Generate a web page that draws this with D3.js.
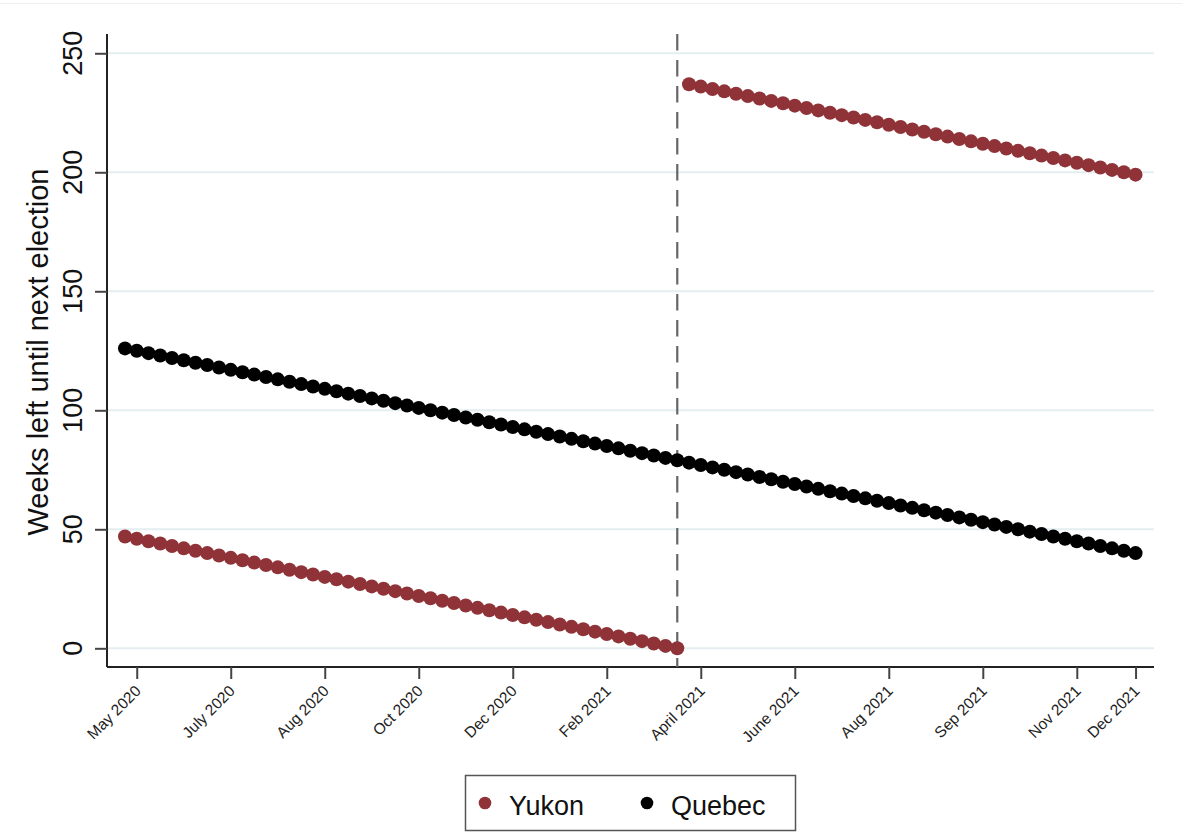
<!DOCTYPE html>
<html>
<head>
<meta charset="utf-8">
<script src="https://cdn.jsdelivr.net/npm/d3@7"></script>
<style>
  html, body { margin: 0; padding: 0; background: #fff; }
  svg { display: block; font-family: "Liberation Sans", Arial, Helvetica, sans-serif; }
</style>
</head>
<body>
<svg id="chart" width="1182" height="839"></svg>
<script>
// Weeks left until the next provincial/territorial election, one point per week
const yukon = [47,46,45,44,43,42,41,40,39,38,37,36,35,34,33,32,31,30,29,28,27,26,25,24,
  23,22,21,20,19,18,17,16,15,14,13,12,11,10,9,8,7,6,5,4,3,2,1,0,
  237,236,235,234,233,232,231,230,229,228,227,226,225,224,223,222,221,220,219,218,
  217,216,215,214,213,212,211,210,209,208,207,206,205,204,203,202,201,200,199];
const quebec = [126,125,124,123,122,121,120,119,118,117,116,115,114,113,112,111,110,109,108,
  107,106,105,104,103,102,101,100,99,98,97,96,95,94,93,92,91,90,89,88,87,86,85,84,83,82,
  81,80,79,78,77,76,75,74,73,72,71,70,69,68,67,66,65,64,63,62,61,60,59,58,57,56,55,54,53,
  52,51,50,49,48,47,46,45,44,43,42,41,40];
const weeks = d3.range(yukon.length);            // week index of each observation

const tickWeeks  = [1, 9, 17, 25, 33, 41, 49, 57, 65, 73, 81, 86];
const tickLabels = ["May 2020","July 2020","Aug 2020","Oct 2020","Dec 2020","Feb 2021",
                    "April 2021","June 2021","Aug 2021","Sep 2021","Nov 2021","Dec 2021"];
const yTicks = [0, 50, 100, 150, 200, 250];
const electionWeek = 47;                          // Yukon election week

const series = [
  { name: "Yukon",  values: yukon,  color: "#8f3338" },
  { name: "Quebec", values: quebec, color: "#000000" }
];

const svg = d3.select("#chart");
const plot = { left: 107, right: 1154, top: 34, bottom: 667 };

const x = d3.scaleLinear().domain([-1.53, 87.57]).range([plot.left, plot.right]);
const y = d3.scaleLinear().domain([-7.86, 258.1]).range([plot.bottom, plot.top]);

// faint top rule
svg.append("line").attr("x1", 0).attr("x2", 1182).attr("y1", 3.5).attr("y2", 3.5)
  .attr("stroke", "#eeeeee").attr("stroke-width", 1);

// horizontal gridlines
svg.append("g").selectAll("line").data(yTicks).join("line")
  .attr("x1", plot.left).attr("x2", plot.right)
  .attr("y1", d => y(d)).attr("y2", d => y(d))
  .attr("stroke", "#e4eef1").attr("stroke-width", 2);

// y axis
const yAxis = svg.append("g").attr("transform", `translate(${plot.left},0)`)
  .call(d3.axisLeft(y).tickValues(yTicks).tickSize(12).tickPadding(0).tickFormat(""));
yAxis.select(".domain").attr("d", `M0,${plot.top}V${plot.bottom}`)
  .attr("stroke", "#222").attr("stroke-width", 2);
yAxis.selectAll(".tick line").attr("stroke", "#444").attr("stroke-width", 2);
svg.append("g").selectAll("text").data(yTicks).join("text")
  .attr("transform", d => `translate(82,${y(d)}) rotate(-90)`)
  .attr("text-anchor", "middle")
  .attr("font-size", 27).attr("fill", "#111")
  .text(d => d);

// y axis title
svg.append("text")
  .attr("transform", "translate(48,352) rotate(-90)")
  .attr("text-anchor", "middle")
  .attr("font-size", 29).attr("fill", "#111")
  .text("Weeks left until next election");

// x axis
const xAxis = svg.append("g").attr("transform", `translate(0,${plot.bottom})`)
  .call(d3.axisBottom(x).tickValues(tickWeeks).tickSize(12).tickFormat(""));
xAxis.select(".domain").attr("d", `M${plot.left},0H${plot.right}`)
  .attr("stroke", "#222").attr("stroke-width", 2);
xAxis.selectAll(".tick line").attr("stroke", "#444").attr("stroke-width", 2);
svg.append("g").selectAll("text").data(tickWeeks).join("text")
  .attr("transform", d => `translate(${x(d) + 5},692) rotate(-45)`)
  .attr("text-anchor", "end")
  .attr("font-size", 15.5).attr("fill", "#222")
  .text((d, i) => tickLabels[i]);

// dashed reference line at the Yukon election
svg.append("line")
  .attr("x1", x(electionWeek)).attr("x2", x(electionWeek))
  .attr("y1", plot.top).attr("y2", plot.bottom)
  .attr("stroke", "#666").attr("stroke-width", 2.2)
  .attr("stroke-dasharray", "16.5,9.5");

// points
series.forEach(s => {
  svg.append("g").selectAll("circle").data(weeks).join("circle")
    .attr("cx", d => x(d)).attr("cy", d => y(s.values[d]))
    .attr("r", 7).attr("fill", s.color);
});

// legend
const legend = svg.append("g");
legend.append("rect").attr("x", 465.5).attr("y", 775.5).attr("width", 330).attr("height", 55)
  .attr("fill", "#fff").attr("stroke", "#555").attr("stroke-width", 1.5);
const legendItems = [
  { s: series[0], dot: 485, text: 509 },
  { s: series[1], dot: 647, text: 671 }
];
legendItems.forEach(it => {
  legend.append("circle").attr("cx", it.dot).attr("cy", 803).attr("r", 6.3).attr("fill", it.s.color);
  legend.append("text").attr("x", it.text).attr("y", 815)
    .attr("font-size", 27).attr("fill", "#111").text(it.s.name);
});
</script>
</body>
</html>
